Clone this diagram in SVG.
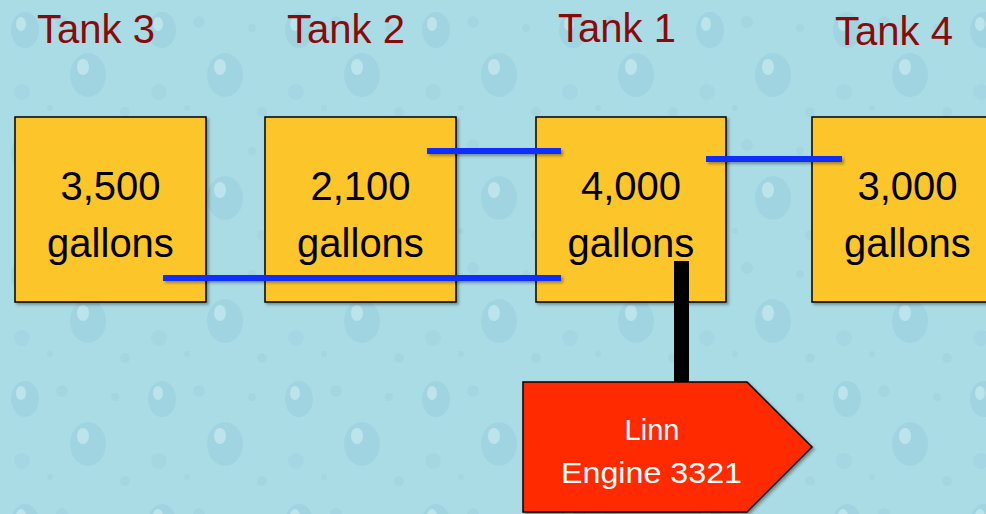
<svg xmlns="http://www.w3.org/2000/svg" width="986" height="514" viewBox="0 0 986 514">
<style>
.title{font-family:"Liberation Sans",Arial,sans-serif;font-size:40px;fill:#8a0a0a;text-anchor:middle}
.val{font-family:"Liberation Sans",Arial,sans-serif;font-size:40px;fill:#000;text-anchor:middle}
.tank{fill:#fcc62a;stroke:#000;stroke-width:1.5;filter:url(#sh)}
.pipe{fill:#0d2dff;filter:url(#sh)}
.eng{font-family:"Liberation Sans",Arial,sans-serif;font-size:29px;fill:#fff;text-anchor:middle}
</style>
<defs>
<filter id="sh" x="-10%" y="-50%" width="130%" height="250%">
<feDropShadow dx="2" dy="2" stdDeviation="1.5" flood-color="#000" flood-opacity="0.35"/>
</filter>
<pattern id="drops" width="137" height="123" patternUnits="userSpaceOnUse">
<rect width="137" height="123" fill="#aadce6"/>
<ellipse cx="25" cy="30" rx="14" ry="18" fill="#98cfdc" opacity="0.6"/>
<ellipse cx="21" cy="24" rx="5" ry="7" fill="#cdeef4" opacity="0.6"/>
<ellipse cx="88" cy="75" rx="18" ry="22" fill="#97cedb" opacity="0.55"/>
<ellipse cx="83" cy="67" rx="6" ry="8" fill="#cfeef4" opacity="0.6"/>
<circle cx="62" cy="22" r="6" fill="#9ed2de" opacity="0.6"/>
<circle cx="115" cy="28" r="4" fill="#9ed2de" opacity="0.6"/>
<circle cx="22" cy="92" r="8" fill="#9ed2de" opacity="0.55"/>
<circle cx="50" cy="108" r="3" fill="#9ed2de" opacity="0.6"/>
<circle cx="125" cy="112" r="5" fill="#9ed2de" opacity="0.6"/>
</pattern>
</defs>
<rect width="986" height="514" fill="url(#drops)"/>

<g id="tank3">
<text class="title" x="96" y="43">Tank 3</text>
<rect class="tank" x="15" y="117" width="191" height="185"/>
<text class="val" x="110.5" y="200">3,500</text>
<text class="val" x="110.5" y="257">gallons</text>
</g>
<g id="tank2">
<text class="title" x="346" y="43">Tank 2</text>
<rect class="tank" x="265" y="117" width="191" height="185"/>
<text class="val" x="360.5" y="200">2,100</text>
<text class="val" x="360.5" y="257">gallons</text>
</g>
<g id="tank1">
<text class="title" x="617" y="42">Tank 1</text>
<rect class="tank" x="536" y="117" width="190" height="185"/>
<text class="val" x="631" y="200">4,000</text>
<text class="val" x="631" y="257">gallons</text>
</g>
<g id="tank4">
<text class="title" x="894" y="45">Tank 4</text>
<rect class="tank" x="812" y="117" width="191" height="185"/>
<text class="val" x="907.5" y="200">3,000</text>
<text class="val" x="907.5" y="257">gallons</text>
</g>

<g id="connectors">
<rect class="pipe" x="427" y="148" width="134" height="6"/>
<rect class="pipe" x="163" y="275" width="398" height="6"/>
<rect class="pipe" x="706" y="156" width="136" height="6"/>
<rect x="674" y="261" width="15" height="122" fill="#000"/>
</g>

<g id="engine">
<path d="M523 382 H747 L812 447 L747 512 H523 Z" fill="#ff2a00" stroke="#000" stroke-width="1.5" filter="url(#sh)"/>
<text class="eng" x="652" y="440">Linn</text>
<text class="eng" x="651.5" y="483" textLength="181" lengthAdjust="spacingAndGlyphs">Engine 3321</text>
</g>
</svg>
